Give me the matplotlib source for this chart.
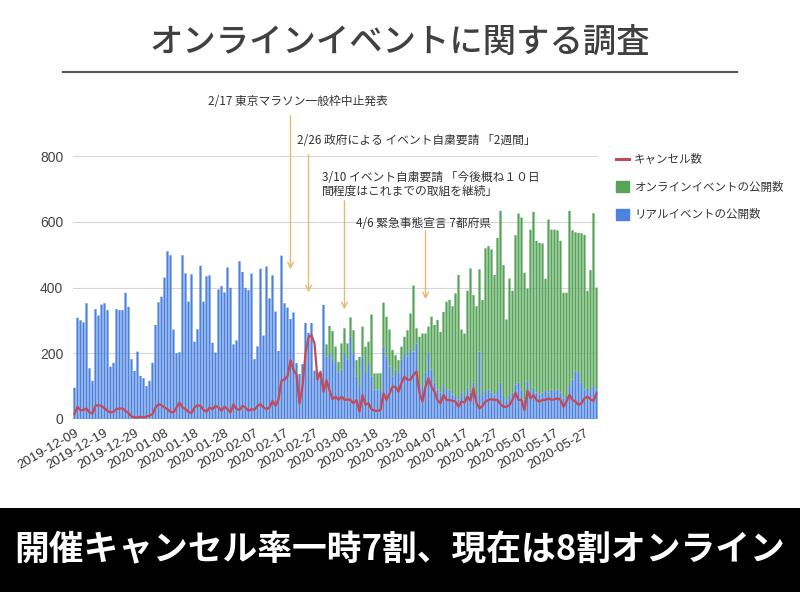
import numpy as np
import matplotlib
matplotlib.use('Agg')
import matplotlib.pyplot as plt
import pandas as pd
from matplotlib.patches import Rectangle, Patch
from matplotlib.lines import Line2D

plt.rcParams['font.family'] = ['Noto Sans CJK JP', 'DejaVu Sans']

start_date = '2019-12-09'

# リアルイベントの公開数 (blue)
real_events = [
    95, 308, 300, 294, 352, 154, 116, 334, 315, 348, 352, 331, 159, 171, 334, 331, 331, 384, 341, 182,
    146, 205, 131, 124, 100, 116, 171, 286, 355, 372, 430, 510, 498, 272, 200, 203, 498, 443, 357, 440,
    235, 273, 466,
    357, 434, 437, 232, 202, 394, 404, 385, 461, 399, 227, 239, 480, 447, 399, 392, 442, 182, 221, 457,
    254, 464, 367, 437, 327, 207, 497, 352, 339, 304, 324, 170, 137, 167, 292, 262, 292, 147, 142, 140,
    347,
    190, 200, 185, 170, 140, 150, 200, 180, 250, 200, 130, 100, 190, 140, 170, 130, 90, 90, 85, 220,
    190, 160, 130, 150, 140, 180, 200, 190, 210, 205, 230, 110, 100, 140, 200, 150, 110, 90, 80, 100,
    85, 90, 75, 70, 60, 80,
    70, 95, 80, 110, 75, 205, 70, 85, 90, 80, 75, 85, 110, 70, 55, 70, 80, 105, 110, 90,
    60, 115, 85, 95, 80, 75, 80, 85, 80, 90, 85, 90, 80, 65, 70, 100, 120, 145, 140, 110,
    90, 95, 85, 100, 90,
]

# オンラインイベントの公開数 (green)
online_events = [0] * 84 + [
    37, 83, 83, 50, 34, 80, 76, 50, 59, 70, 49, 89, 91, 80, 65, 188, 49, 49, 54, 134,
    121, 112, 80, 44, 39, 40, 50, 80, 111, 201, 46, 140, 160, 120, 81, 161, 176, 211, 185, 226,
    272, 272, 268, 312, 378, 192,
    190, 295, 378, 267, 268, 250, 292, 434, 436, 436, 363, 466, 523, 398, 248, 357, 310, 454, 515, 523,
    385, 282, 491, 535, 462, 461, 454, 342, 527, 486, 491, 484, 462, 319, 314, 533, 454, 423, 426, 455,
    470, 295, 368, 526, 310,
]

# キャンセル数 (red line)
cancellations = [
    15, 37, 27, 27, 32, 20, 17, 40, 42, 40, 32, 25, 20, 22, 30, 32, 32, 25, 18, 8,
    5, 5, 7, 5, 8, 10, 15, 35, 45, 42, 35, 30, 22, 20, 35, 50, 35, 30, 22, 18,
    35, 42, 40,
    28, 22, 35, 30, 40, 35, 25, 38, 30, 20, 45, 30, 28, 40, 35, 25, 30, 28, 40, 45,
    35, 30, 35, 55, 40, 60, 117, 120, 130, 179, 150, 135, 47, 98, 200, 248, 255, 230, 120, 144,
    83, 118,
    88, 60, 68, 58, 68, 58, 60, 58, 48, 58, 22, 73, 43, 48, 30, 25, 25, 27, 78, 58,
    78, 98, 98, 83, 110, 129, 119, 120, 134, 144, 80, 53, 98, 124, 98, 83, 58, 48, 73, 58,
    58, 55, 53, 37, 53,
    50, 68, 55, 93, 48, 32, 40, 53, 58, 60, 58, 58, 45, 37, 37, 43, 58, 80, 58, 58,
    27, 86, 63, 73, 58, 53, 58, 58, 63, 58, 60, 63, 58, 37, 53, 73, 58, 53, 43, 48,
    63, 68, 60, 55, 78,
]

y_ticks = [0, 200, 400, 600, 800]

legend_labels = ['キャンセル数', 'オンラインイベントの公開数', 'リアルイベントの公開数']

annotations = [
    ('2/17 東京マラソン一般枠中止発表', '2020-02-19'),
    ('2/26 政府による イベント自粛要請 「2週間」', '2020-02-25'),
    ('3/10 イベント自粛要請 「今後概ね１０日\n間程度はこれまでの取組を継続」', '2020-03-08'),
    ('4/6 緊急事態宣言 7都府県', '2020-04-04'),
]

title = 'オンラインイベントに関する調査'
banner = '開催キャンセル率一時7割、現在は8割オンライン'

C_BLUE = '#4d82df'
C_GREEN = '#55a457'
C_RED = '#c64a55'
C_ARROW = '#e9b86d'

n = len(real_events)
dates = pd.date_range(start_date, periods=n, freq='D')
x = np.arange(n)
real = np.array(real_events)
online = np.array(online_events)
cancel = np.array(cancellations)

fig = plt.figure(figsize=(8, 6), dpi=100)
fig.patch.set_facecolor('white')

ax = fig.add_axes([73 / 800, 1 - 419 / 600, (598 - 73) / 800, (419 - 156) / 600])
b1 = ax.bar(x, real, width=0.74, color=C_BLUE, zorder=2)
b2 = ax.bar(x, online, bottom=real, width=0.74, color=C_GREEN, zorder=2)
for p in list(b1) + list(b2):
    p.set_snap(False)
ax.plot(x, cancel, color=C_RED, lw=1.6, zorder=3)

ax.set_xlim(-0.5, n - 0.5)
ax.set_ylim(0, 800)
ax.set_yticks(y_ticks)
ax.set_yticklabels([str(v) for v in y_ticks], family='Liberation Sans', fontsize=10, color='#444444')
ax.yaxis.grid(True, color='#d6d6d6', lw=0.8, zorder=0)
ax.set_axisbelow(True)
ax.axhline(0, color='#9a9a9a', lw=1.0, zorder=1)

tick_idx = x[::10]
ax.set_xticks(tick_idx)
ax.set_xticklabels([dates[i].strftime('%Y-%m-%d') for i in tick_idx], rotation=30, ha='right',
                   rotation_mode='anchor', family='Liberation Sans', fontsize=9.5, color='#333333')
ax.tick_params(axis='both', length=0)
ax.tick_params(axis='y', pad=7)
ax.tick_params(axis='x', pad=6)
for s in ax.spines.values():
    s.set_visible(False)

# annotations (layout positions in axis data units)
text_pos = [(44.5, 967), (74.2, 846), (82.5, 713), (93.8, 596)]
arrow_top = [931, 812, 672, 581]
arrow_tip = [447, 377, 325, 356]
for (txt, d), (tx, ty), yt, yb in zip(annotations, text_pos, arrow_top, arrow_tip):
    xi = (pd.Timestamp(d) - dates[0]).days
    ax.text(tx, ty, txt, ha='left', va='center', fontsize=8.5, color='#333333',
            linespacing=1.1, clip_on=False)
    ax.annotate('', xy=(xi, yb), xytext=(xi, yt),
                arrowprops=dict(arrowstyle='->', color=C_ARROW, lw=1.0, mutation_scale=10),
                annotation_clip=False)

handles = [Line2D([0], [0], color=C_RED, lw=2.2),
           Patch(facecolor=C_GREEN, edgecolor=C_GREEN),
           Patch(facecolor=C_BLUE, edgecolor=C_BLUE)]
fig.legend(handles, legend_labels, loc='upper left', bbox_to_anchor=(606 / 800, 1 - 143 / 600),
           frameon=False, fontsize=8.3, labelspacing=1.25, handlelength=1.1, handleheight=1.1,
           handletextpad=0.45, labelcolor='#333333')

# title and rule
fig.text(0.5, 1 - 42 / 600, title, ha='center', va='center', fontsize=24, color='#404040',
         fontweight='medium')
fig.add_artist(Line2D([63 / 800, 737 / 800], [1 - 72 / 600, 1 - 72 / 600], color='#555555', lw=1.5))

# bottom banner
fig.add_artist(Rectangle((0, 1 - 592 / 600), 1, 84 / 600, transform=fig.transFigure,
                         facecolor='black', edgecolor='none'))
fig.text(0.5, 1 - 550 / 600, banner, ha='center', va='center', fontsize=25, color='white',
         fontweight='bold')

fig.savefig('out.png', dpi=100)
